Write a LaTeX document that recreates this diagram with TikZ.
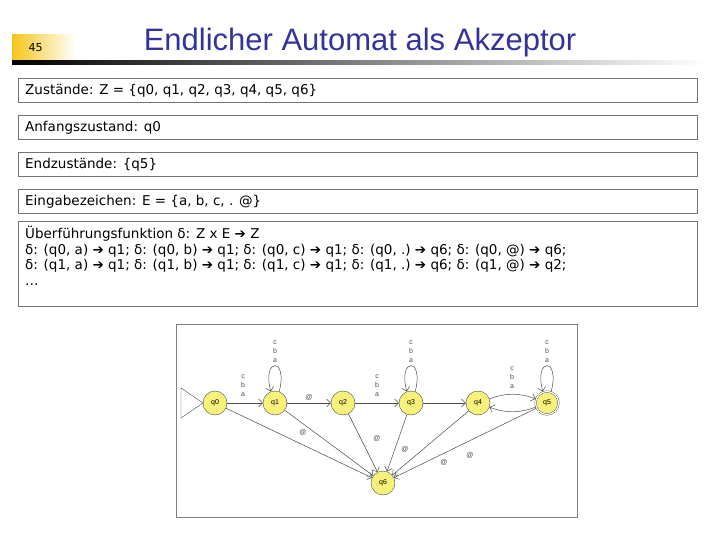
\documentclass[tikz,border=0pt]{standalone}
\usepackage{fontspec}
\setmainfont{DejaVu Sans}
\newfontfamily\titlefont{Liberation Sans}
\usetikzlibrary{arrows.meta}
\definecolor{titleblue}{HTML}{333399}
\definecolor{stgold}{HTML}{F5C518}
\definecolor{nodey}{HTML}{F7F07A}
\newcommand{\ar}{\ ➔\ }
\begin{document}
\begin{tikzpicture}[x=1pt,y=-1pt,
  box/.style={draw=black!55,line width=0.6pt},
  btxt/.style={anchor=west,font=\fontsize{13.5}{15.5}\selectfont,align=left,inner sep=0pt},
  st/.style={circle,draw=black!70,fill=nodey,minimum size=24pt,inner sep=0pt,font=\titlefont\fontsize{7}{8}\selectfont},
  tr/.style={-{Straight Barb[length=4pt]},draw=black!70,line width=0.5pt},
  lb/.style={font=\titlefont\fontsize{7}{8}\selectfont,text=black!70,inner sep=1pt},
  lbs/.style={lb,align=center,font=\titlefont\fontsize{7}{9}\selectfont}]
\useasboundingbox (0,0) rectangle (720,540);
\fill[white] (0,0) rectangle (720,540);
% header
\shade[left color=stgold,right color=white] (12,35) rectangle (75,60);
\node[anchor=west,font=\fontsize{11}{14}\selectfont] (num) at (25,48) {45};
\shade[left color=black,right color=white] (12,61) rectangle (705,65);
\node[font=\titlefont\fontsize{31}{33}\selectfont,text=titleblue] (title) at (360,42) {Endlicher Automat als Akzeptor};
% text boxes
\draw[box] (18,78) rectangle (697,102);
\node[btxt] (t1) at (25,91) {Zustände: Z = \{q0, q1, q2, q3, q4, q5, q6\}};
\draw[box] (18,115) rectangle (697,139);
\node[btxt] (t2) at (25,128) {Anfangszustand: q0};
\draw[box] (18,152) rectangle (697,176);
\node[btxt] (t3) at (25,165) {Endzustände: \{q5\}};
\draw[box] (18,189) rectangle (697,213);
\node[btxt] (t4) at (25,202) {Eingabezeichen: E = \{a, b, c, . @\}};
\draw[box] (18,221) rectangle (697,306);
\node[btxt,anchor=north west] (t5) at (25,226) {Überführungsfunktion δ: Z x E\ar Z\\
δ: (q0, a)\ar q1; δ: (q0, b)\ar q1; δ: (q0, c)\ar q1; δ: (q0, .)\ar q6; δ: (q0, @)\ar q6;\\
δ: (q1, a)\ar q1; δ: (q1, b)\ar q1; δ: (q1, c)\ar q1; δ: (q1, .)\ar q6; δ: (q1, @)\ar q2;\\
\dots};
% automaton
\draw[black!50,line width=0.7pt] (176,324) rectangle (577,517);
\node[st,double,double distance=1.2pt,minimum size=23pt] (q5r) at (547,403) {};
\node[st] (q0) at (215,403) {q0};
\node[st] (q1) at (275,403) {q1};
\node[st] (q2) at (343,403) {q2};
\node[st] (q3) at (411,403) {q3};
\node[st] (q4) at (478,403) {q4};
\node[st,fill=none,draw=none] (q5) at (547,403) {q5};
\node[st] (q6) at (383,483) {q6};
\draw[black!70] (181,388) -- (203,403) -- (181,418) -- cycle;
\draw[tr] (q0) -- (q1);
\draw[tr] (q1) -- (q2);
\draw[tr] (q2) -- (q3);
\draw[tr] (q3) -- (q4);
\draw[tr] (q4.20) to[bend left=20] (q5.160);
\draw[tr] (q5.200) to[bend left=20] (q4.-20);
\draw[tr] (q1.70) to[out=75,in=105,looseness=11] (q1.110);
\draw[tr] (q3.70) to[out=75,in=105,looseness=11] (q3.110);
\draw[tr] (q5.70) to[out=75,in=105,looseness=11] (q5.110);
\foreach \s in {q0,q1,q2,q3,q4,q5} \draw[tr] (\s) -- (q6);
\node[lbs] (l01) at (243,386) {c\\b\\a};
\node[lbs] (l23) at (377,386) {c\\b\\a};
\node[lbs] (l45) at (512,378) {c\\b\\a};
\node[lbs] (l11) at (275,352) {c\\b\\a};
\node[lbs] (l33) at (411,352) {c\\b\\a};
\node[lbs] (l55) at (547,352) {c\\b\\a};
\node[lb] (l12) at (309,397) {@};
\node[lb] (l16) at (303,432) {@};
\node[lb] (l06) at (296,443) {.};
\node[lb] (l26) at (377,438) {@};
\node[lb] (l26b) at (366,446) {.};
\node[lb] (l36) at (405,449) {@};
\node[lb] (l46) at (438,455) {.};
\node[lb] (l46b) at (444,462) {@};
\node[lb] (l56) at (470,455) {@};
\node[lb] (l54) at (513,418) {.};
\end{tikzpicture}
\end{document}
